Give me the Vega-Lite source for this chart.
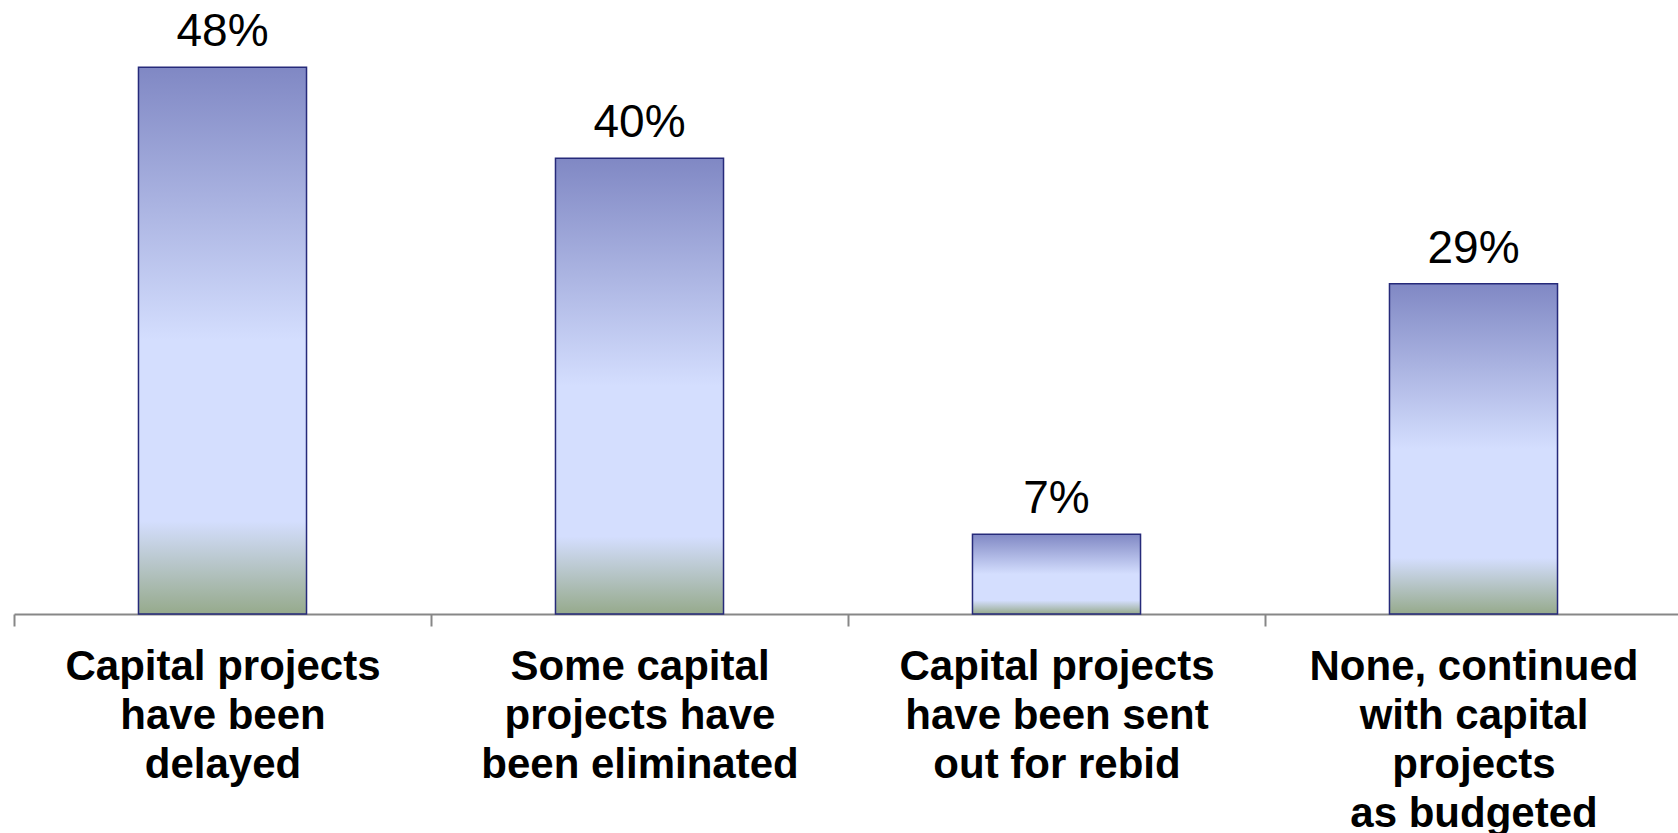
{
  "$schema": "https://vega.github.io/schema/vega-lite/v6.json",
  "autosize": {"type": "none"},
  "padding": {"left": 14, "top": 0, "right": 0, "bottom": 219},
  "width": 1668,
  "height": 614,
  "background": "white",
  "config": {"view": {"stroke": null}},
  "data": {
    "values": [
      {"category": "Capital projects\nhave been\ndelayed", "value": 48, "label": "48%"},
      {"category": "Some capital\nprojects have\nbeen eliminated", "value": 40, "label": "40%"},
      {"category": "Capital projects\nhave been sent\nout for rebid", "value": 7, "label": "7%"},
      {"category": "None, continued\nwith capital\nprojects\nas budgeted", "value": 29, "label": "29%"}
    ]
  },
  "encoding": {
    "x": {
      "field": "category",
      "type": "nominal",
      "sort": null,
      "scale": {"paddingInner": 0, "paddingOuter": 0},
      "axis": {
        "title": null,
        "labelAngle": 0,
        "labelExpr": "isString(datum.value) ? split(datum.value, '\\n') : ''",
        "labelFont": "Liberation Sans",
        "labelFontSize": 42,
        "labelFontWeight": "bold",
        "labelColor": "#000000",
        "labelLineHeight": 49,
        "labelPadding": 20,
        "labelLimit": 0,
        "tickBand": "extent",
        "tickSize": 12,
        "tickWidth": 2,
        "tickColor": "#878787",
        "domainColor": "#878787",
        "domainWidth": 2,
        "grid": false
      }
    },
    "y": {
      "field": "value",
      "type": "quantitative",
      "scale": {"domain": [0, 53.9], "nice": false},
      "axis": null
    }
  },
  "layer": [
    {
      "mark": {
        "type": "bar",
        "width": {"band": 0.403},
        "stroke": "#262A7A",
        "strokeWidth": 1.5,
        "color": {
          "gradient": "linear",
          "x1": 0, "y1": 0, "x2": 0, "y2": 1,
          "stops": [
            {"offset": 0, "color": "#8088C4"},
            {"offset": 0.5, "color": "#D4DEFE"},
            {"offset": 0.83, "color": "#D4DEFE"},
            {"offset": 1, "color": "#96AA8C"}
          ]
        }
      }
    },
    {
      "mark": {
        "type": "text",
        "baseline": "alphabetic",
        "align": "center",
        "dy": -21,
        "font": "Liberation Sans",
        "fontSize": 46,
        "color": "#000000"
      },
      "encoding": {"text": {"field": "label"}}
    }
  ]
}
